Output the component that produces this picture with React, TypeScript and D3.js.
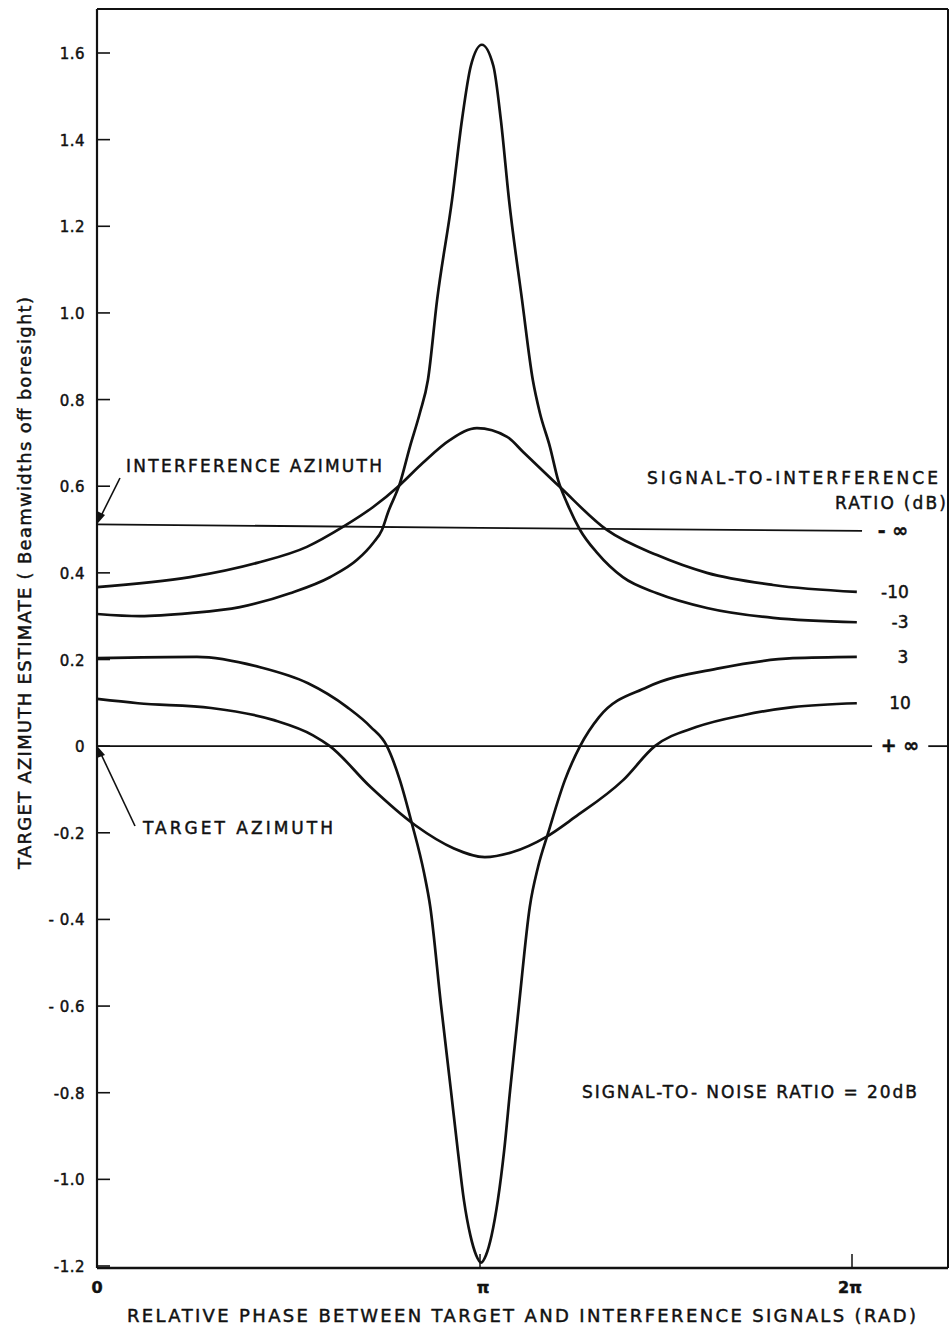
import React from "react";
import * as d3 from "d3";

// Phase in units of π radians, value in beamwidths off boresight
const xTickValues = [0, 1, 2];
const xTickLabels = ["0", "π", "2π"];
const yTickValues = [1.6, 1.4, 1.2, 1.0, 0.8, 0.6, 0.4, 0.2, 0, -0.2, -0.4, -0.6, -0.8, -1.0, -1.2];
const yTickLabels = ["1.6", "1.4", "1.2", "1.0", "0.8", "0.6", "0.4", "0.2", "0", "-0.2", "- 0.4", "- 0.6", "-0.8", "-1.0", "-1.2"];

const sirMinusInf: [number, number][] = [[0, 0.512], [1.0, 0.504], [2.027, 0.497]];
const sirPlusInf: [number, number][] = [[0, 0.0], [2.054, 0.0]];
const plusInfStub: [number, number][] = [[2.205, 0.0], [2.26, 0.0]];

const sirMinus10: [number, number][] = [
  [0, 0.367], [0.243, 0.39], [0.418, 0.423], [0.548, 0.46], [0.642, 0.506], [0.721, 0.552],
  [0.791, 0.603], [0.851, 0.654], [0.922, 0.707], [0.992, 0.734], [1.073, 0.714], [1.116, 0.679],
  [1.215, 0.598], [1.341, 0.499], [1.476, 0.441], [1.61, 0.4], [1.788, 0.372], [2.013, 0.356],
];

const sirMinus3: [number, number][] = [
  [0, 0.305], [0.112, 0.3], [0.243, 0.307], [0.373, 0.321], [0.504, 0.353], [0.608, 0.39],
  [0.679, 0.43], [0.721, 0.469], [0.744, 0.499], [0.76, 0.54], [0.791, 0.607],
  [0.817, 0.691], [0.843, 0.769], [0.864, 0.845], [0.888, 1.03], [0.927, 1.261], [0.953, 1.446],
  [0.976, 1.57], [1.005, 1.619], [1.036, 1.57], [1.056, 1.446], [1.078, 1.261], [1.113, 1.03],
  [1.142, 0.845], [1.161, 0.769], [1.188, 0.691], [1.21, 0.614], [1.234, 0.561], [1.269, 0.499],
  [1.315, 0.446], [1.384, 0.39], [1.476, 0.353], [1.61, 0.319], [1.788, 0.296], [2.013, 0.286],
];

const sirPlus3: [number, number][] = [
  [0, 0.203], [0.261, 0.206], [0.426, 0.182], [0.551, 0.145], [0.653, 0.09], [0.715, 0.044],
  [0.757, 0], [0.791, -0.079], [0.822, -0.178], [0.854, -0.293], [0.87, -0.37], [0.898, -0.596],
  [0.924, -0.794], [0.942, -0.933], [0.958, -1.048], [0.975, -1.13], [0.99, -1.175], [1.003, -1.192],
  [1.016, -1.175], [1.031, -1.13], [1.048, -1.048], [1.065, -0.933], [1.081, -0.794], [1.105, -0.596],
  [1.134, -0.37], [1.156, -0.279], [1.183, -0.201], [1.228, -0.079], [1.269, 0], [1.32, 0.067],
  [1.449, 0.136], [1.645, 0.18], [1.841, 0.203], [2.013, 0.206],
];

const sirPlus10: [number, number][] = [
  [0, 0.109], [0.107, 0.099], [0.298, 0.088], [0.462, 0.06], [0.564, 0.025], [0.608, 0],
  [0.715, -0.095], [0.83, -0.182], [0.932, -0.236], [1.013, -0.256], [1.086, -0.245], [1.177, -0.21],
  [1.255, -0.164], [1.384, -0.079], [1.47, 0], [1.581, 0.044], [1.71, 0.072], [1.841, 0.09], [2.013, 0.099],
];

const curveLabels = ["- ∞", "-10", "-3", "3", "10", "+ ∞"];
const curveLabelValues = [0.497, 0.356, 0.286, 0.206, 0.099, 0.0];

const FONT = "'DejaVu Sans', 'Liberation Sans', sans-serif";
const INK = "#111";

export default function App() {
  const x = d3.scaleLinear().domain([0, 1, 2]).range([97, 480, 852]);
  const y = d3.scaleLinear().domain([-1.2, 1.6]).range([1266, 53]);

  const smooth = d3
    .line<[number, number]>()
    .x((d) => x(d[0]))
    .y((d) => y(d[1]))
    .curve(d3.curveMonotoneX);
  const straight = d3
    .line<[number, number]>()
    .x((d) => x(d[0]))
    .y((d) => y(d[1]));

  const left = 97;
  const right = 948;
  const top = 9;
  const bottom = 1268;

  const curveLabelX = [893, 895, 900, 903, 900, 900];
  const curveLabelDy = [6, 6, 6, 6, 6, 6];

  const txt = { fontFamily: FONT, fill: INK, stroke: INK, strokeWidth: 0.45 } as const;

  return (
    <svg
      width={951}
      height={1332}
      viewBox="0 0 951 1332"
      style={{ position: "absolute", left: 0, top: 0, background: "#fff" }}
    >
      <rect x={0} y={0} width={951} height={1332} fill="#fff" />
      {/* frame */}
      <line x1={left} y1={top} x2={right} y2={top} stroke={INK} strokeWidth={2} />
      <line x1={right} y1={top} x2={right} y2={bottom} stroke={INK} strokeWidth={2} />
      <line x1={left} y1={top} x2={left} y2={bottom} stroke={INK} strokeWidth={2.2} />
      <line x1={left} y1={bottom} x2={right} y2={bottom} stroke={INK} strokeWidth={2.4} />

      {/* y ticks */}
      {yTickValues.map((v, i) => (
        <g key={"yt" + i}>
          <line x1={left} x2={left + 13} y1={y(v)} y2={y(v)} stroke={INK} strokeWidth={1.6} />
          <text x={85} y={y(v) + 6} textAnchor="end" fontSize={15} letterSpacing={0.5} {...txt}>
            {yTickLabels[i]}
          </text>
        </g>
      ))}

      {/* x ticks */}
      {xTickValues.map((v, i) => (
        <g key={"xt" + i}>
          {i > 0 && (
            <line x1={x(v)} x2={x(v)} y1={bottom} y2={bottom - 14} stroke={INK} strokeWidth={1.5} />
          )}
          <text
            x={x(v) + (i === 2 ? -2 : i === 1 ? 3 : 0)}
            y={1293}
            textAnchor="middle"
            fontSize={16}
            fontWeight="bold"
            {...txt}
          >
            {xTickLabels[i]}
          </text>
        </g>
      ))}

      {/* reference lines */}
      <path d={straight(sirMinusInf) || ""} fill="none" stroke={INK} strokeWidth={1.8} />
      <path d={straight(sirPlusInf) || ""} fill="none" stroke={INK} strokeWidth={1.8} />
      <path d={straight(plusInfStub) || ""} fill="none" stroke={INK} strokeWidth={1.8} />

      {/* curves */}
      {[sirMinus10, sirMinus3, sirPlus3, sirPlus10].map((s, i) => (
        <path key={"c" + i} d={smooth(s) || ""} fill="none" stroke={INK} strokeWidth={2.7} strokeLinejoin="round" />
      ))}

      {/* curve labels */}
      {curveLabels.map((lab, i) => (
        <text
          key={"cl" + i}
          x={curveLabelX[i]}
          y={y(curveLabelValues[i]) + curveLabelDy[i]}
          textAnchor="middle"
          fontSize={i === 0 || i === 5 ? 19 : 17}
          fontWeight={i === 0 || i === 5 ? "bold" : "normal"}
          {...txt}
        >
          {lab}
        </text>
      ))}

      {/* legend title */}
      <text x={647} y={484} fontSize={17} textLength={291} lengthAdjust="spacing" {...txt}>
        SIGNAL-TO-INTERFERENCE
      </text>
      <text x={835} y={509} fontSize={17} textLength={111} lengthAdjust="spacing" {...txt}>
        RATIO (dB)
      </text>

      {/* annotations */}
      <text x={126} y={472} fontSize={17} textLength={256} lengthAdjust="spacing" {...txt}>
        INTERFERENCE AZIMUTH
      </text>
      <line x1={120} y1={478} x2={101} y2={516} stroke={INK} strokeWidth={1.6} />
      <path d="M98,523 L97,511 L105,515 Z" fill={INK} />

      <text x={143} y={834} fontSize={17} textLength={190} lengthAdjust="spacing" {...txt}>
        TARGET AZIMUTH
      </text>
      <line x1={135} y1={826} x2={101} y2={754} stroke={INK} strokeWidth={1.6} />
      <path d="M98,747 L97,758 L105,755 Z" fill={INK} />

      <text x={582} y={1098} fontSize={17} textLength={335} lengthAdjust="spacing" {...txt}>
        SIGNAL-TO- NOISE  RATIO = 20dB
      </text>

      {/* axis titles */}
      <text
        transform="translate(31,583) rotate(-90)"
        textAnchor="middle"
        fontSize={18}
        textLength={572}
        lengthAdjust="spacing"
        {...txt}
      >
        TARGET AZIMUTH ESTIMATE ( Beamwidths off boresight)
      </text>
      <text x={127} y={1322} fontSize={18} textLength={789} lengthAdjust="spacing" {...txt}>
        RELATIVE PHASE BETWEEN TARGET AND INTERFERENCE SIGNALS (RAD)
      </text>
    </svg>
  );
}
